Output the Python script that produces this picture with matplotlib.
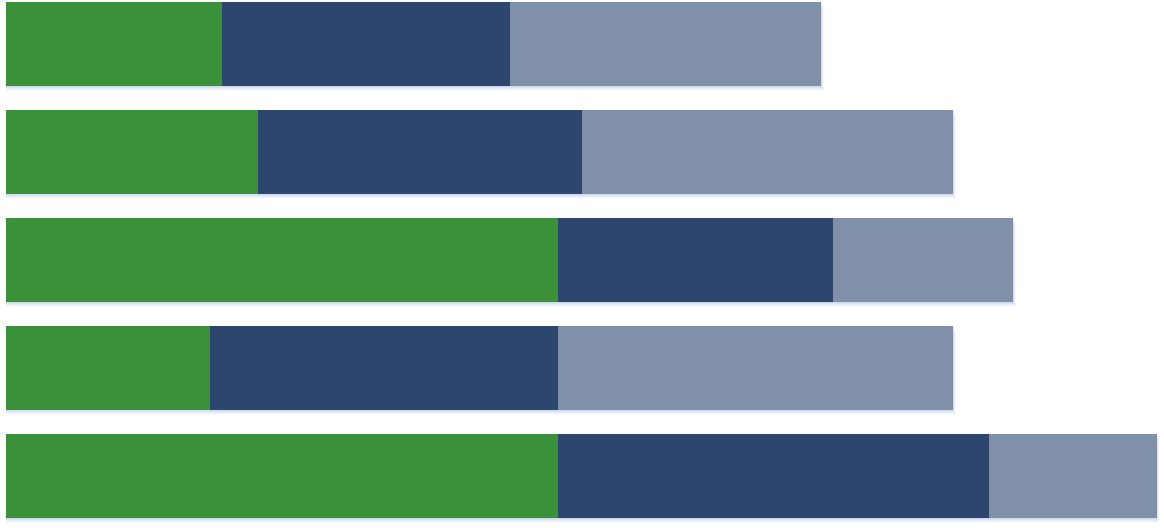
import matplotlib
matplotlib.use("Agg")
import matplotlib.pyplot as plt
import numpy as np

categories = ["A", "B", "C", "D", "E"]
series1 = [18, 21, 46, 17, 46]   # green
series2 = [24, 27, 23, 29, 36]   # navy
series3 = [26, 31, 15, 33, 14]   # gray-blue
colors = ["#3a9139", "#2d466e", "#8090a9"]

fig = plt.figure(figsize=(11.64, 5.28), dpi=100)
ax = fig.add_axes([0, 0, 1, 1])

y = np.arange(len(categories))
h = 84 / 108
px = 1 / 108  # one pixel in y data units
s1 = np.array(series1); s2 = np.array(series2); s3 = np.array(series3)
total = s1 + s2 + s3

# soft shadow
for k, a in zip([1, 2, 3, 4, 5], [0.35, 0.25, 0.18, 0.12, 0.07]):
    ax.barh(y + k * px, total + k * 0.04, height=h, left=0, color="#b9cdec",
            alpha=a, linewidth=0, zorder=1)

ax.barh(y, s1, height=h, color=colors[0], linewidth=0, zorder=3)
ax.barh(y, s2, height=h, left=s1, color=colors[1], linewidth=0, zorder=3)
ax.barh(y, s3, height=h, left=s1 + s2, color=colors[2], linewidth=0, zorder=3)

unit = 1151 / 96
ax.set_xlim(-6 / unit, (1164 - 6) / unit)
ax.set_ylim(4 + (528 - 476) / 108, -44.5 / 108)
ax.axis("off")

fig.savefig("out.png", dpi=100)
